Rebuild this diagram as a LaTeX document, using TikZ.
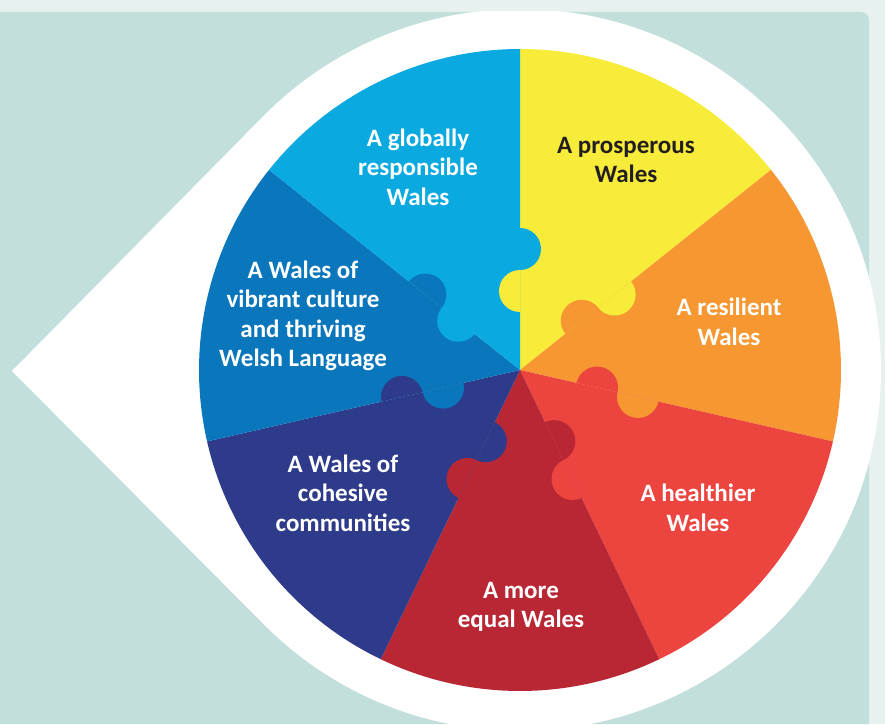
\documentclass[tikz,border=0pt]{standalone}
\usepackage{fontspec}
\setmainfont{Carlito}
\usetikzlibrary{calc}
\definecolor{bgLight}{HTML}{E7F2F0}
\definecolor{panel}{HTML}{C3DFDB}
\definecolor{cYellow}{HTML}{F8EC3A}
\definecolor{cOrange}{HTML}{F69731}
\definecolor{cRed}{HTML}{EC443F}
\definecolor{cDark}{HTML}{B82733}
\definecolor{cNavy}{HTML}{2E3A8A}
\definecolor{cBlue}{HTML}{0A76BB}
\definecolor{cLight}{HTML}{0AA9E0}
\definecolor{txtDark}{HTML}{231F20}
\begin{document}
\begin{tikzpicture}[x=1pt,y=1pt,
  wtxt/.style={align=center, text=white, font=\fontsize{25}{29.5}\selectfont\bfseries, inner sep=0pt}]
\useasboundingbox (0,0) rectangle (885,724);
\fill[bgLight] (0,0) rectangle (885,724);
\fill[panel] (0,0) -- (869,0) -- (869,704) arc[start angle=0,end angle=90,radius=8] -- (0,712) -- cycle;
\coordinate (C) at (520,354);
\coordinate (P) at (12,353);
\begin{scope}
  \clip (0,0) rectangle (885,712);
  \fill[white] (P) -- ($(C)+(135.3:361)$) arc[start angle=135.3,end angle=-135.3,radius=361] -- cycle;
\end{scope}
% wedges
\foreach \col [count=\i from 0] in {cYellow,cOrange,cRed,cDark,cNavy,cBlue,cLight} {
  \pgfmathsetmacro\a{90-51.428571*\i}
  \pgfmathsetmacro\b{\a-51.428571}
  \fill[\col] (C) -- ($(C)+(\a:321)$) arc[start angle=\a, end angle=\b, radius=321] -- cycle;
}
% puzzle knobs
\foreach \cin/\cout [count=\i from 0] in {cYellow/cLight,cOrange/cYellow,cRed/cOrange,cDark/cRed,cNavy/cDark,cBlue/cNavy,cLight/cBlue} {
  \pgfmathsetmacro\t{90-51.428571*\i}
  \pgfmathsetmacro\tp{\t+180}
  \pgfmathsetmacro\tm{\t-180}
  \fill[\cin] ($(C)+(\t:100)$) arc[start angle=\t, end angle=\tp, radius=21] -- cycle;
  \fill[\cout] ($(C)+(\t:142)$) arc[start angle=\t, end angle=\tm, radius=21] -- cycle;
}
\node[wtxt] (glob) at (418,557) {A globally\\responsible\\Wales};
\node[wtxt, text=txtDark] (pros) at (626,564) {A prosperous\\Wales};
\node[wtxt] (resi) at (729,402) {A resilient\\Wales};
\node[wtxt] (heal) at (698,216) {A healthier\\Wales};
\node[wtxt] (equal) at (521,117) {A more\\equal Wales};
\node[wtxt] (cohe) at (343,231) {A Wales of\\cohesive\\communities};
\node[wtxt] (vibr) at (303,408) {A Wales of\\vibrant culture\\and thriving\\Welsh Language};
\end{tikzpicture}
\end{document}
